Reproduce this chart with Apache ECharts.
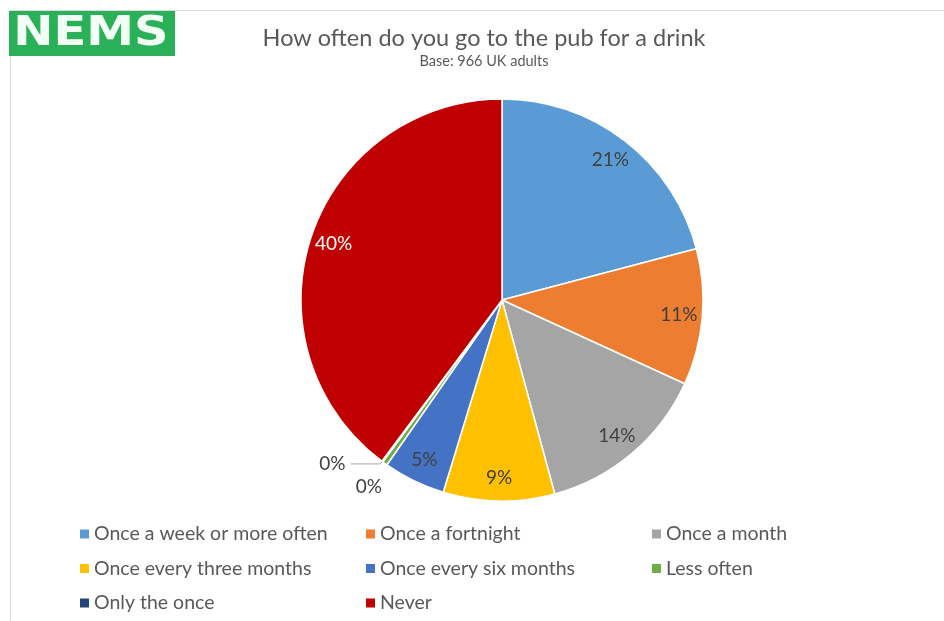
<!DOCTYPE html>
<html>
<head>
<meta charset="utf-8">
<script src="https://cdn.jsdelivr.net/npm/echarts@6/dist/echarts.min.js"></script>
<style>
  html, body { margin: 0; padding: 0; background: #fff; }
  #chart { width: 944px; height: 621px; }
</style>
</head>
<body>
<div id="chart"></div>
<script>
// Survey answers, share of respondents (%)
const categories = [
  'Once a week or more often',
  'Once a fortnight',
  'Once a month',
  'Once every three months',
  'Once every six months',
  'Less often',
  'Only the once',
  'Never'
];
const shares = [21, 11, 14, 9, 5, 0.4, 0.1, 40];
const colors = ['#5B9BD5', '#ED7D31', '#A5A5A5', '#FFC000', '#4472C4', '#70AD47', '#264478', '#C00000'];

const FONT = 'Lato, "Liberation Sans", sans-serif';
const TEXT = '#595959';

const pieData = categories.map((name, i) => ({ name, value: shares[i] }));

// label placement per slice: big slices inside near the rim, tiny ones outside
const labelData = categories.map((name, i) => {
  const item = { name, value: shares[i] };
  if (name === 'Less often') {
    item.label = { position: 'outside', distanceToLabelLine: -14, color: '#404040' };
    item.labelLine = { show: false, length: 29, length2: 0 };
  } else if (name === 'Only the once') {
    item.label = { position: 'outside', distanceToLabelLine: 5, color: '#404040' };
    item.labelLine = { show: true, length: 3, length2: 30, lineStyle: { color: '#A6A6A6', width: 1 } };
  } else if (name === 'Never') {
    item.label = { color: '#FFFFFF' };
  }
  return item;
});

const center = [502, 300];
const R = 201;

function legendColumn(names, left) {
  return {
    data: names,
    orient: 'vertical',
    left: left,
    top: 524,
    padding: 0,
    icon: 'rect',
    itemWidth: 9,
    itemHeight: 9,
    itemGap: 14.5,
    itemStyle: { borderWidth: 0 },
    selectedMode: false,
    textStyle: { fontFamily: FONT, fontSize: 19.5, color: TEXT, lineHeight: 20 }
  };
}

const chart = echarts.init(document.getElementById('chart'), null, { renderer: 'canvas' });
chart.setOption({
  animation: false,
  color: colors,
  graphic: [
    // chart frame
    { type: 'line', shape: { x1: 10.5, y1: 10.5, x2: 944, y2: 10.5 }, style: { stroke: '#D9D9D9', lineWidth: 1 } },
    { type: 'line', shape: { x1: 10.5, y1: 10.5, x2: 10.5, y2: 621 }, style: { stroke: '#D9D9D9', lineWidth: 1 } },
    // logo
    { type: 'rect', shape: { x: 9, y: 11, width: 166, height: 45 }, style: { fill: '#2BB05A' } },
    {
      type: 'text', x: 91, y: 35, scaleX: 1.2,
      style: {
        text: 'NEMS', fill: '#F2FFF4', font: 'bold 40px "DejaVu Sans", sans-serif',
        textAlign: 'center', textVerticalAlign: 'middle',
        shadowColor: 'rgba(200,255,210,0.8)', shadowBlur: 2
      }
    },
    // titles
    {
      type: 'text', x: 484, y: 38,
      style: { text: 'How often do you go to the pub for a drink', fill: TEXT, font: '23.5px ' + FONT, textAlign: 'center', textVerticalAlign: 'middle' }
    },
    {
      type: 'text', x: 484, y: 61,
      style: { text: 'Base: 966 UK adults', fill: TEXT, font: '14.5px ' + FONT, textAlign: 'center', textVerticalAlign: 'middle' }
    }
  ],
  legend: [
    legendColumn([categories[0], categories[3], categories[6]], 80),
    legendColumn([categories[1], categories[4], categories[7]], 366),
    legendColumn([categories[2], categories[5]], 652)
  ],
  series: [
    {
      type: 'pie',
      center: center,
      radius: [0, R],
      startAngle: 90,
      clockwise: true,
      avoidLabelOverlap: false,
      silent: true,
      label: { show: false },
      labelLine: { show: false },
      itemStyle: { borderColor: '#FFFFFF', borderWidth: 1.5 },
      data: pieData
    },
    {
      // transparent ring carrying the value labels
      type: 'pie',
      center: center,
      radius: [148, R],
      startAngle: 90,
      clockwise: true,
      avoidLabelOverlap: false,
      silent: true,
      itemStyle: { color: 'rgba(0,0,0,0)', borderWidth: 0 },
      emphasis: { disabled: true },
      label: {
        show: true,
        position: 'inside',
        fontFamily: FONT,
        fontSize: 19,
        color: '#404040',
        formatter: p => Math.round(p.value) + '%'
      },
      labelLine: { show: false },
      data: labelData
    }
  ]
});
</script>
</body>
</html>
